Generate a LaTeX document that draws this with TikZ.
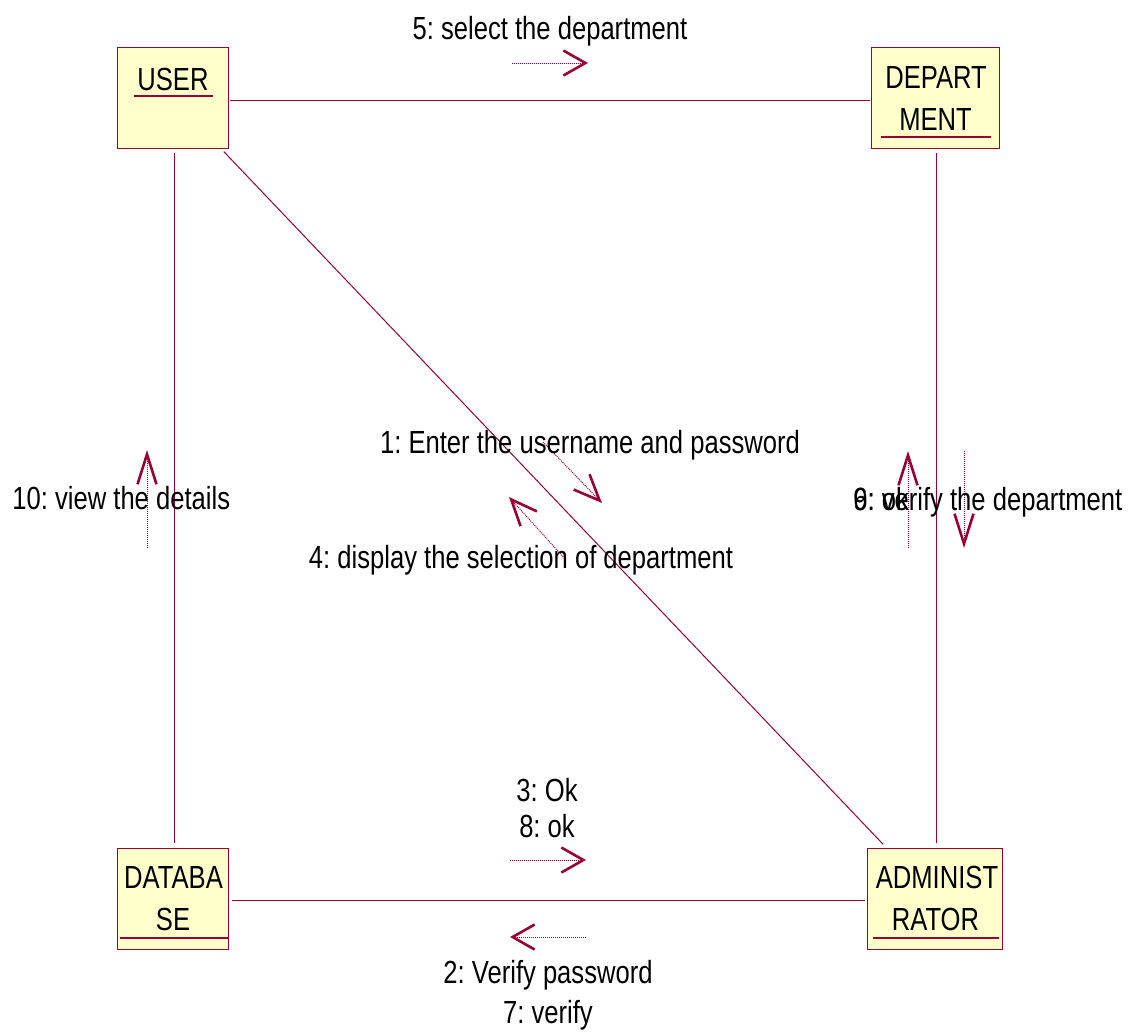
\documentclass[tikz,border=0pt]{standalone}
\usepackage{fontspec}
\setmainfont{Liberation Sans}[FakeStretch=0.8]
\usetikzlibrary{arrows.meta}
\definecolor{rosered}{RGB}{153,0,51}
\definecolor{roseyellow}{RGB}{255,255,204}
\frenchspacing

\begin{document}
\begin{tikzpicture}[x=0.5pt,y=-0.5pt,
  classbox/.style={draw=rosered, fill=roseyellow, line width=0.5pt,
    inner sep=0pt, outer sep=0pt, minimum height=50.5pt},
  lbl/.style={inner sep=0pt, anchor=base, text=black,
    font=\fontsize{16pt}{19pt}\selectfont},
  link/.style={draw=rosered, line width=0.5pt},
  uline/.style={draw=rosered, line width=0.6pt},
  msg/.style={draw=rosered, line width=0.5pt, dash pattern=on 0.5pt off 0.5pt},
  headh/.style={-{Straight Barb[length=11pt,width=12.5pt,line width=1.3pt]}},
  headv/.style={-{Straight Barb[length=15pt,width=9.5pt,line width=1.3pt]}},
  headd/.style={-{Straight Barb[length=13pt,width=11pt,line width=1.3pt]}},
]
\useasboundingbox (0,0) rectangle (1145,1034);

% objects
\node[classbox, minimum width=55.5pt] (user)  at (172.5,97.5)  {};
\node[classbox, minimum width=64pt]   (dept)  at (935,97.5)    {};
\node[classbox, minimum width=55.5pt] (db)    at (172.5,898.5) {};
\node[classbox, minimum width=67.5pt] (admin) at (934.5,898.5) {};

% links between objects
\draw[link, shorten <=1pt, shorten >=0.5pt]
  ([yshift=-1.25pt]user.east) -- ([yshift=-1.25pt]dept.west);
\draw[link, shorten <=2.5pt, shorten >=2.5pt]
  ([xshift=0.75pt]user.south) -- ([xshift=0.75pt]db.north);
\draw[link, shorten <=2.5pt, shorten >=2.5pt] (user) -- (admin);
\draw[link, shorten <=2.5pt, shorten >=2.5pt]
  ([xshift=0.75pt]dept.south) -- ([xshift=1pt]admin.north);
\draw[link, shorten <=2pt, shorten >=1pt]
  ([yshift=-0.75pt]db.east) -- ([yshift=-0.75pt]admin.west);

% object names
\node[lbl] (userT)   at (173,90)    {USER};
\node[lbl] (deptT1)  at (936,88)    {DEPART};
\node[lbl] (deptT2)  at (935.5,130) {MENT};
\node[lbl] (dbT1)    at (173.5,888) {DATABA};
\node[lbl] (dbT2)    at (173,930)   {SE};
\node[lbl] (adminT1) at (937,888)   {ADMINIST};
\node[lbl] (adminT2) at (935.5,930) {RATOR};

\draw[uline] (134,96)  -- (213,96);
\draw[uline] (881,137) -- (991,137);
\draw[uline] (120,938) -- (229,938);
\draw[uline] (873,938) -- (999,938);

% message arrows
\coordinate (m5a)  at (512,63);  \coordinate (m5b)  at (588,63);
\coordinate (m3a)  at (510,860); \coordinate (m3b)  at (586,860);
\coordinate (m2a)  at (586,937); \coordinate (m2b)  at (510,937);
\coordinate (m10a) at (147,548); \coordinate (m10b) at (147,450);
\coordinate (m9a)  at (908,548); \coordinate (m9b)  at (908,451);
\coordinate (m6a)  at (964,451); \coordinate (m6b)  at (964,548);
\coordinate (m1a)  at (543,442); \coordinate (m1b)  at (602,503);
\coordinate (m4a)  at (566,560); \coordinate (m4b)  at (509,497);

\draw[msg, headh] (m5a)  -- (m5b);
\draw[msg, headh] (m3a)  -- (m3b);
\draw[msg, headh] (m2a)  -- (m2b);
\draw[msg, headv] (m10a) -- (m10b);
\draw[msg, headv] (m9a)  -- (m9b);
\draw[msg, headv] (m6a)  -- (m6b);
\draw[msg, headd] (m1a)  -- (m1b);
\draw[msg, headd] (m4a)  -- (m4b);

% message labels (9 and 6 share one spot on the same link)
\node[lbl] (t5) at (550,39) {5: select the department};
\node[lbl] (t1) at (590,453) {1: Enter the username and password};
\node[lbl] (t4) at (521,568) {4: display the selection of department};
\node[lbl, anchor=base west] (t10) at (12,509) {10: view the details};
\node[lbl, anchor=base west] (t9)  at (853,510) {9: ok};
\node[lbl, anchor=base west] (t6)  at (853,510) {6: verify the department};
\node[lbl] (t3) at (547,801)  {3: Ok};
\node[lbl] (t8) at (547,837)  {8: ok};
\node[lbl] (t2) at (548,983)  {2: Verify password};
\node[lbl] (t7) at (548,1023) {7: verify};
\end{tikzpicture}
\end{document}
